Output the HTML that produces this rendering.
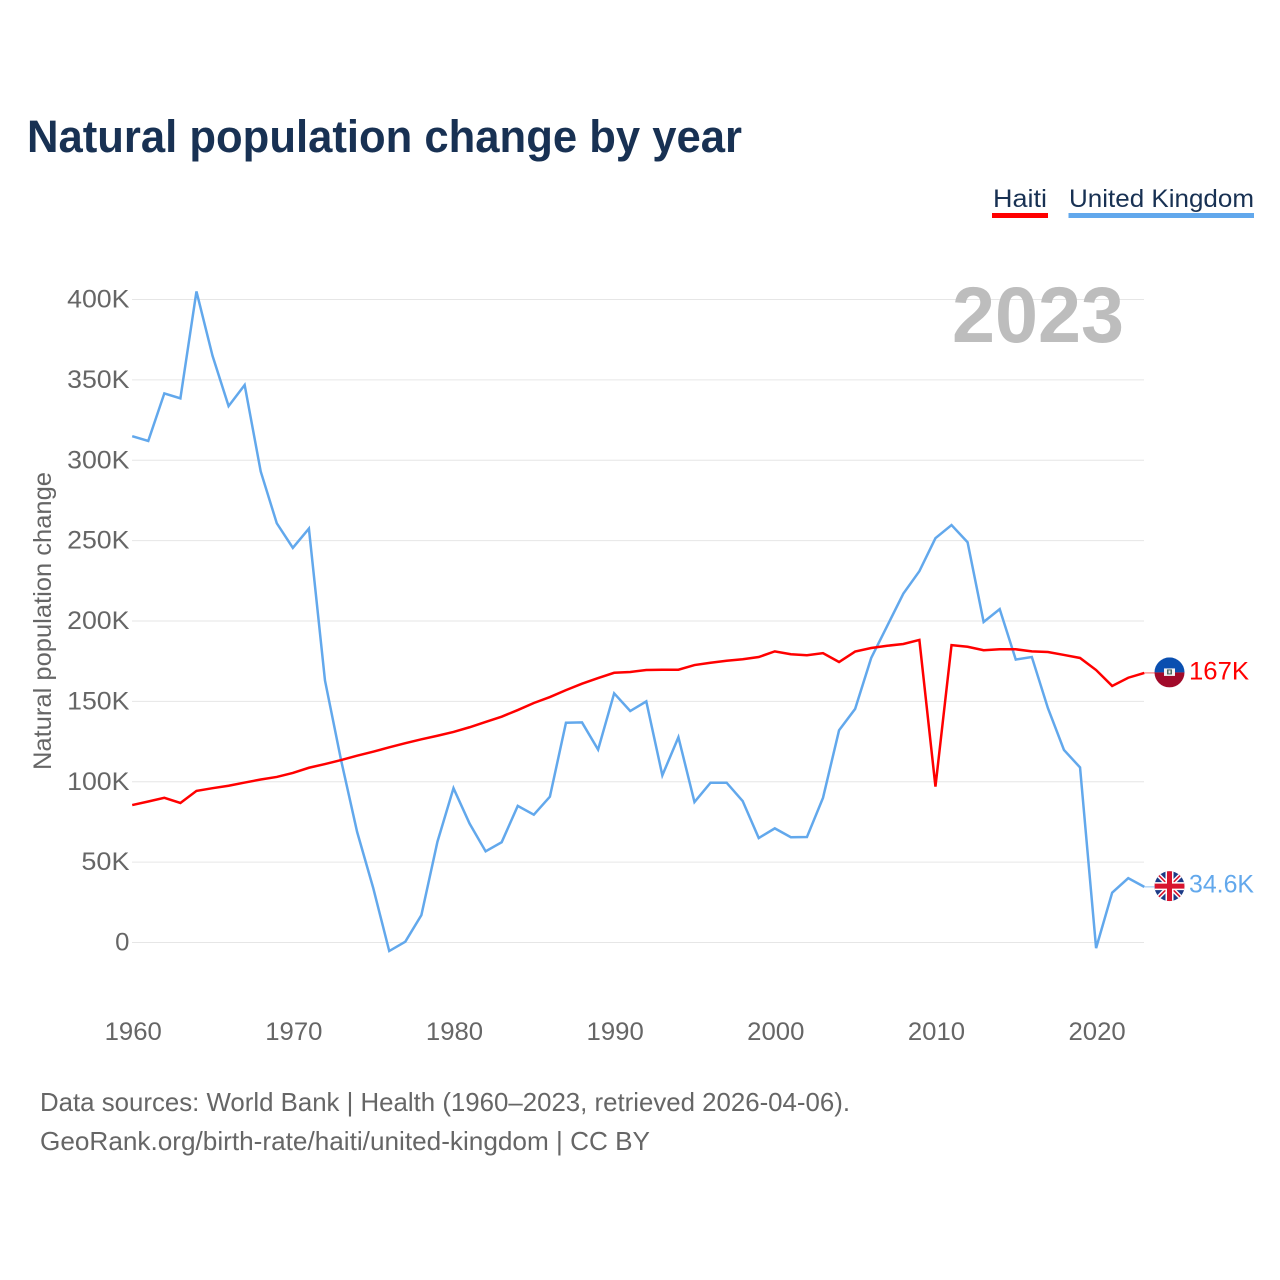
<!DOCTYPE html>
<html lang="en">
<head>
<meta charset="utf-8">
<title>Natural population change by year</title>
<style>
html,body{margin:0;padding:0;background:#fff;}
svg{display:block;font-family:"Liberation Sans",sans-serif;}
</style>
</head>
<body>
<svg id="chart" xmlns="http://www.w3.org/2000/svg" width="1280" height="1280" viewBox="0 0 1280 1280">
  <defs>
    <clipPath id="flag-clip-haiti"><circle cx="0" cy="0" r="15"/></clipPath>
    <clipPath id="flag-clip-uk"><circle cx="0" cy="0" r="15"/></clipPath>
  </defs>
  <rect width="1280" height="1280" fill="#fff"/>
  <text x="27" y="152" font-size="45" font-weight="bold" fill="#183153" textLength="715" lengthAdjust="spacingAndGlyphs">Natural population change by year</text>

  <g>
    <text x="993" y="207" font-size="25" fill="#183153" textLength="54" lengthAdjust="spacingAndGlyphs">Haiti</text>
    <rect x="992" y="213" width="56" height="5" fill="#ff0000"/>
  </g>
  <g>
    <text x="1069" y="207" font-size="25" fill="#183153" textLength="185" lengthAdjust="spacingAndGlyphs">United Kingdom</text>
    <rect x="1068.5" y="213" width="185.5" height="5" fill="#62a8ec"/>
  </g>

  <g id="grid"></g>
  <text x="952" y="342" font-size="79" font-weight="bold" fill="#bdbdbd" textLength="172" lengthAdjust="spacingAndGlyphs">2023</text>
  <g id="y-labels"></g>
  <g id="x-labels"></g>
  <text transform="translate(51 621) rotate(-90)" text-anchor="middle" font-size="25" fill="#666" textLength="298" lengthAdjust="spacingAndGlyphs">Natural population change</text>
  <g id="series"></g>

  <g id="flag-haiti">
    <g clip-path="url(#flag-clip-haiti)">
      <rect x="-15" y="-15" width="30" height="15" fill="#0a4fb0"/>
      <rect x="-15" y="0" width="30" height="15" fill="#a10a2a"/>
      <rect x="-5.5" y="-4" width="11" height="7.5" fill="#f4f4f4"/>
      <rect x="-2.5" y="-3" width="5" height="5" fill="#4a6a60"/>
      <rect x="-1" y="-2" width="2" height="3" fill="#e8e8e8"/>
    </g>
  </g>
  <g id="flag-uk">
    <g clip-path="url(#flag-clip-uk)">
      <rect x="-15" y="-15" width="30" height="30" fill="#1c3a86"/>
      <path d="M-15 -15L15 15M15 -15L-15 15" stroke="#fff" stroke-width="4.5"/>
      <path d="M-15 -15L15 15M15 -15L-15 15" stroke="#d8142e" stroke-width="1.6"/>
      <path d="M0 -15V15M-15 0H15" stroke="#fff" stroke-width="8"/>
      <path d="M0 -15V15M-15 0H15" stroke="#d8142e" stroke-width="5"/>
    </g>
  </g>
  <g id="end-labels"></g>

  <text x="40" y="1111" font-size="26" fill="#666" textLength="810" lengthAdjust="spacingAndGlyphs">Data sources: World Bank | Health (1960–2023, retrieved 2026-04-06).</text>
  <text x="40" y="1150" font-size="26" fill="#666" textLength="610" lengthAdjust="spacingAndGlyphs">GeoRank.org/birth-rate/haiti/united-kingdom | CC BY</text>
</svg>
<script>
const startYear = 1960;
const xTickYears = [1960, 1970, 1980, 1990, 2000, 2010, 2020];
const yTickValues = [0, 50, 100, 150, 200, 250, 300, 350, 400];
const yTickLabels = ["0", "50K", "100K", "150K", "200K", "250K", "300K", "350K", "400K"];
const haitiValues = [85.5, 87.7, 90, 86.8, 94.3, 96, 97.5, 99.5, 101.4, 103, 105.5, 108.7, 111, 113.5, 116.2, 118.7, 121.4, 124, 126.4, 128.6, 131, 133.9, 137.2, 140.5, 144.6, 149, 152.7, 157, 161, 164.5, 167.8, 168.3, 169.5, 169.7, 169.7, 172.6, 174, 175.3, 176.2, 177.6, 181.1, 179.3, 178.7, 180, 174.5, 181, 183.2, 184.6, 185.7, 188.2, 97, 185, 184, 181.8, 182.4, 182.4, 181.1, 180.7, 178.9, 177, 169.5, 159.6, 164.7, 167.7];
const ukValues = [315, 312, 341.6, 338.5, 405, 365, 333.7, 346.8, 293, 260.8, 245.5, 257.5, 163, 113.5, 68.8, 34, -5.3, 0.5, 17, 62.7, 96, 74, 56.7, 62.4, 85, 79.5, 90.7, 136.7, 136.9, 120, 155, 144, 150, 104, 127.7, 87.4, 99.4, 99.4, 88, 65, 71, 65.5, 65.6, 90, 132, 145.3, 177, 197, 217, 231, 251.5, 259.7, 249, 199.4, 207.4, 176, 177.6, 145.8, 119.8, 108.9, -3.5, 31, 40, 34.6];
const haitiEndLabel = "167K";
const ukEndLabel = "34.6K";

const NS = "http://www.w3.org/2000/svg";
function xScale(year) { return 132.2 + (year - 1960) * 16.065; }
function yScale(value) { return 942.5 - value * 1.6075; }
function labelWidth(text) {
  let w = 0;
  for (const ch of text) {
    if (ch === "K") w += 19.5;
    else if (ch === ".") w += 7;
    else w += 14.3;
  }
  return w;
}
function make(tag, attrs, parent, content) {
  const el = document.createElementNS(NS, tag);
  for (const k in attrs) el.setAttribute(k, attrs[k]);
  if (content !== undefined) el.textContent = content;
  parent.appendChild(el);
  return el;
}

const grid = document.getElementById("grid");
const yLabels = document.getElementById("y-labels");
yTickValues.forEach(function (value, i) {
  const y = yScale(value);
  const line = make("line", { x1: 132, x2: 1144, y1: y, y2: y, stroke: "#e6e6e6", "stroke-width": 1 }, grid);
  
  
  const text = make("text", { x: 129.5, y: y + 8, "text-anchor": "end", "font-size": 25, fill: "#666", textLength: labelWidth(yTickLabels[i]), lengthAdjust: "spacingAndGlyphs" }, yLabels, yTickLabels[i]);
  
  
});

const xLabels = document.getElementById("x-labels");
xTickYears.forEach(function (year) {
  const label = String(year);
  const text = make("text", { x: xScale(year) + 1, y: 1040, "text-anchor": "middle", "font-size": 25, fill: "#666", textLength: labelWidth(label), lengthAdjust: "spacingAndGlyphs" }, xLabels, label);
  
  
});

function pointsFor(values) {
  return values.map(function (v, i) {
    return xScale(startYear + i).toFixed(2) + "," + yScale(v).toFixed(2);
  }).join(" ");
}
const seriesGroup = document.getElementById("series");
const ukLine = make("polyline", { points: pointsFor(ukValues), fill: "none", stroke: "#62a8ec", "stroke-width": 2.5, "stroke-linejoin": "miter" }, seriesGroup);


const haitiLine = make("polyline", { points: pointsFor(haitiValues), fill: "none", stroke: "#ff0000", "stroke-width": 2.5, "stroke-linejoin": "miter" }, seriesGroup);



const endX = xScale(startYear + haitiValues.length - 1);
const haitiEndY = yScale(haitiValues[haitiValues.length - 1]);
const ukEndY = yScale(ukValues[ukValues.length - 1]);
const endGroup = document.getElementById("end-labels");

const haitiConnector = make("line", { x1: endX, x2: 1155, y1: haitiEndY, y2: haitiEndY, stroke: "#ff0000", "stroke-width": 1, opacity: 0.6 }, endGroup);


const ukConnector = make("line", { x1: endX, x2: 1155, y1: ukEndY, y2: ukEndY, stroke: "#62a8ec", "stroke-width": 1, opacity: 0.7 }, endGroup);



document.getElementById("flag-haiti").setAttribute("transform", "translate(1169.5 " + (haitiEndY - 0.5) + ")");
document.getElementById("flag-uk").setAttribute("transform", "translate(1169.5 " + (ukEndY - 0.7) + ")");

const haitiLabel = make("text", { x: 1189, y: haitiEndY + 6.5, "font-size": 25, fill: "#ff0000", textLength: 60, lengthAdjust: "spacingAndGlyphs" }, endGroup, haitiEndLabel);


const ukLabel = make("text", { x: 1189, y: ukEndY + 5.5, "font-size": 25, fill: "#62a8ec", textLength: 65, lengthAdjust: "spacingAndGlyphs" }, endGroup, ukEndLabel);


</script>
</body>
</html>
